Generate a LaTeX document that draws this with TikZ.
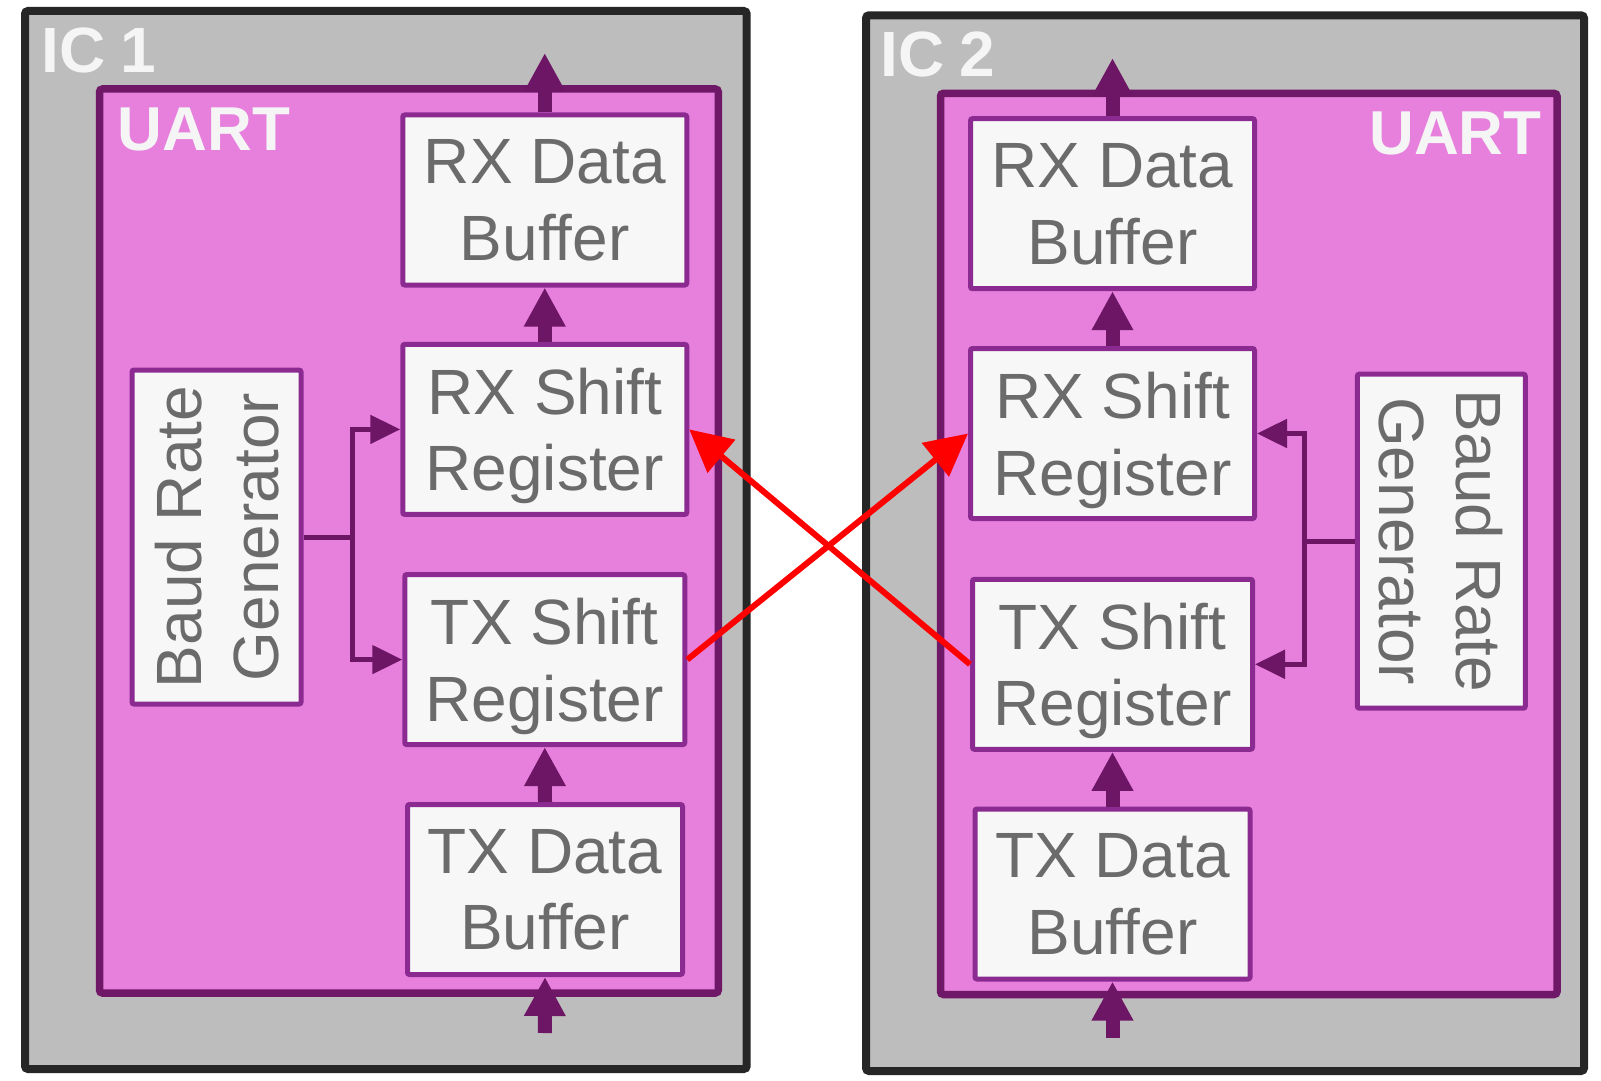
\documentclass[tikz,border=0pt]{standalone}
\usepackage{fontspec}
\setmainfont{Liberation Sans}
\usetikzlibrary{arrows.meta}

\definecolor{icgray}{HTML}{BDBDBD}
\definecolor{icedge}{HTML}{262626}
\definecolor{uartfill}{HTML}{E680DC}
\definecolor{uartedge}{HTML}{701868}
\definecolor{blockedge}{HTML}{8B2B91}
\definecolor{blockfill}{HTML}{F7F7F7}
\definecolor{blocktext}{HTML}{6B6B6B}
\definecolor{busline}{HTML}{6E1666}

\tikzset{
  icbox/.style={draw=icedge, fill=icgray, line width=4pt, rounded corners=1.5pt},
  uartbox/.style={draw=uartedge, fill=uartfill, line width=3.75pt, rounded corners=1.5pt},
  block/.style={draw=blockedge, fill=blockfill, line width=2.5pt, rounded corners=1pt,
    text=blocktext, align=center, font=\fontsize{32}{38.4}\selectfont,
    inner sep=0pt, text depth=0pt, minimum height=85pt},
  iclabel/.style={text=white!96!black, font=\fontsize{32}{32}\selectfont\bfseries, inner sep=0pt},
  bus/.style={draw=busline, line width=7pt, -{Triangle[length=19.5pt,width=19.5pt]}},
  clkline/.style={draw=busline, line width=2.5pt},
  clk/.style={clkline, arrows={Triangle[length=15pt,width=14pt]-Triangle[length=15pt,width=14pt]}},
  wire/.style={draw=red, line width=3pt, -{Triangle[length=21pt,width=21pt]}},
}

\begin{document}
\begin{tikzpicture}[x=0.5pt,y=-0.5pt]
  \useasboundingbox (0,0) rectangle (1601,1081);

  % chips and their UARTs
  \draw[icbox] (25,11) rectangle (746.7,1069);
  \draw[icbox] (866,15.3) rectangle (1584,1071);
  \draw[uartbox] (99.5,89) rectangle (718.3,993);
  \draw[uartbox] (940.5,93.3) rectangle (1557,994.5);

  \node[iclabel, anchor=base west] (ic1lbl) at (41,72.7) {IC\kern7.5pt1};
  \node[iclabel, anchor=base west] (ic2lbl) at (880,76.7) {IC\kern7.5pt2};
  \node[iclabel, anchor=base west, font=\fontsize{31}{31}\selectfont\bfseries] (uartLlbl) at (117.4,150.7) {UART};
  \node[iclabel, anchor=base east, font=\fontsize{31}{31}\selectfont\bfseries] (uartRlbl) at (1542,155) {UART};

  % left UART blocks
  \node[block, minimum width=142pt] (rxdL) at (544.75,200) {RX Data\\Buffer};
  \node[block, minimum width=142pt] (rxsL) at (544.75,429.4) {RX Shift\\Register};
  \node[block, minimum width=140pt] (txsL) at (544.75,659.6) {TX Shift\\Register};
  \node[block, minimum width=137.5pt] (txdL) at (545,889.5) {TX Data\\Buffer};
  \node[block, rotate=90, minimum width=167pt, minimum height=84.5pt] (baudL) at (216.5,537) {Baud Rate\\Generator};

  % right UART blocks
  \node[block, minimum width=142pt] (rxdR) at (1112.5,203.7) {RX Data\\Buffer};
  \node[block, minimum width=142pt] (rxsR) at (1112.5,433.5) {RX Shift\\Register};
  \node[block, minimum width=140pt] (txsR) at (1112.5,664.3) {TX Shift\\Register};
  \node[block, minimum width=137.5pt] (txdR) at (1112.5,894) {TX Data\\Buffer};
  \node[block, rotate=-90, minimum width=167pt, minimum height=84pt] (baudR) at (1441.3,541.2) {Baud Rate\\Generator};

  % data path
  \coordinate (outL) at (544.75,53);
  \coordinate (inL) at (544.75,1033);
  \coordinate (outR) at (1112.5,58);
  \coordinate (inR) at (1112.5,1038);
  \draw[bus] (rxdL.north) -- (outL);
  \draw[bus] (rxsL.north) -- (rxdL.south);
  \draw[bus] (txdL.north) -- (txsL.south);
  \draw[bus] (inL) -- (txdL.south);
  \draw[bus] (rxdR.north) -- (outR);
  \draw[bus] (rxsR.north) -- (rxdR.south);
  \draw[bus] (txdR.north) -- (txsR.south);
  \draw[bus] (inR) -- (txdR.south);

  % baud clock to both shift registers
  \path (baudL.south) ++(49,0) coordinate (brL);
  \path (baudR.south) ++(-50,0) coordinate (brR);
  \draw[clkline] (baudL.south) -- (brL);
  \draw[clk] (rxsL.west) -| (brL) |- (txsL.west);
  \draw[clkline] (baudR.south) -- (brR);
  \draw[clk] (rxsR.east) -| (brR) |- (txsR.east);

  % serial lines
  \draw[wire] (txsL.east) -- (rxsR.west);
  \draw[wire] (txsR.west) -- (rxsL.east);
\end{tikzpicture}
\end{document}
